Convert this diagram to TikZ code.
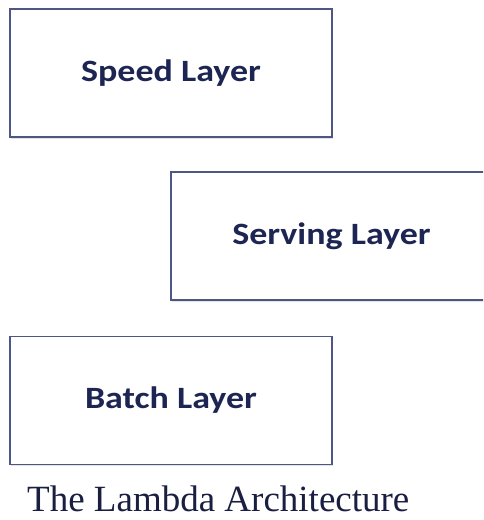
\documentclass[tikz,border=0pt]{standalone}
\usepackage{fontspec}
\usepackage{graphicx}
\setmainfont{Liberation Serif}
\newfontfamily\labelfont{Carlito}
\usetikzlibrary{shadows}
\definecolor{boxline}{HTML}{4E5685}
\definecolor{labelink}{HTML}{1D2552}
\definecolor{captionink}{HTML}{1A1E40}
\tikzset{
  layerbox/.style={draw=boxline, line width=1.3pt, fill=white,
    minimum height=128pt, inner sep=0pt,
    drop shadow={shadow xshift=1.2pt, shadow yshift=-2pt, opacity=0.18, fill=black!60}},
  layertext/.style={text=labelink, font=\labelfont\bfseries\fontsize{31}{35}\selectfont},
  captiontext/.style={text=captionink, font=\fontsize{37}{42}\selectfont, inner sep=0pt}
}
\newcommand{\widelabel}[1]{\scalebox{1.16}[1]{#1}}
\begin{document}
\begin{tikzpicture}[x=1pt,y=1pt]
  \clip (0,0) rectangle (483,520);
  \fill[white] (0,0) rectangle (483,520);
  % the three layers
  \node[layerbox, minimum width=322pt] (speed) at (171,447) {};
  \node[layertext] (speedlbl) at (speed.center) {\widelabel{Speed Layer}};
  \node[layerbox, minimum width=321pt] (serving) at (331.5,284) {};
  \node[layertext] (servinglbl) at (serving.center) {\widelabel{Serving Layer}};
  \node[layerbox, minimum width=322pt] (batch) at (171,119.5) {};
  \node[layertext] (batchlbl) at (batch.center) {\widelabel{Batch Layer}};
  % caption
  \node[captiontext, anchor=base west] (caption) at (27,9) {The Lambda Architecture};
\end{tikzpicture}
\end{document}
